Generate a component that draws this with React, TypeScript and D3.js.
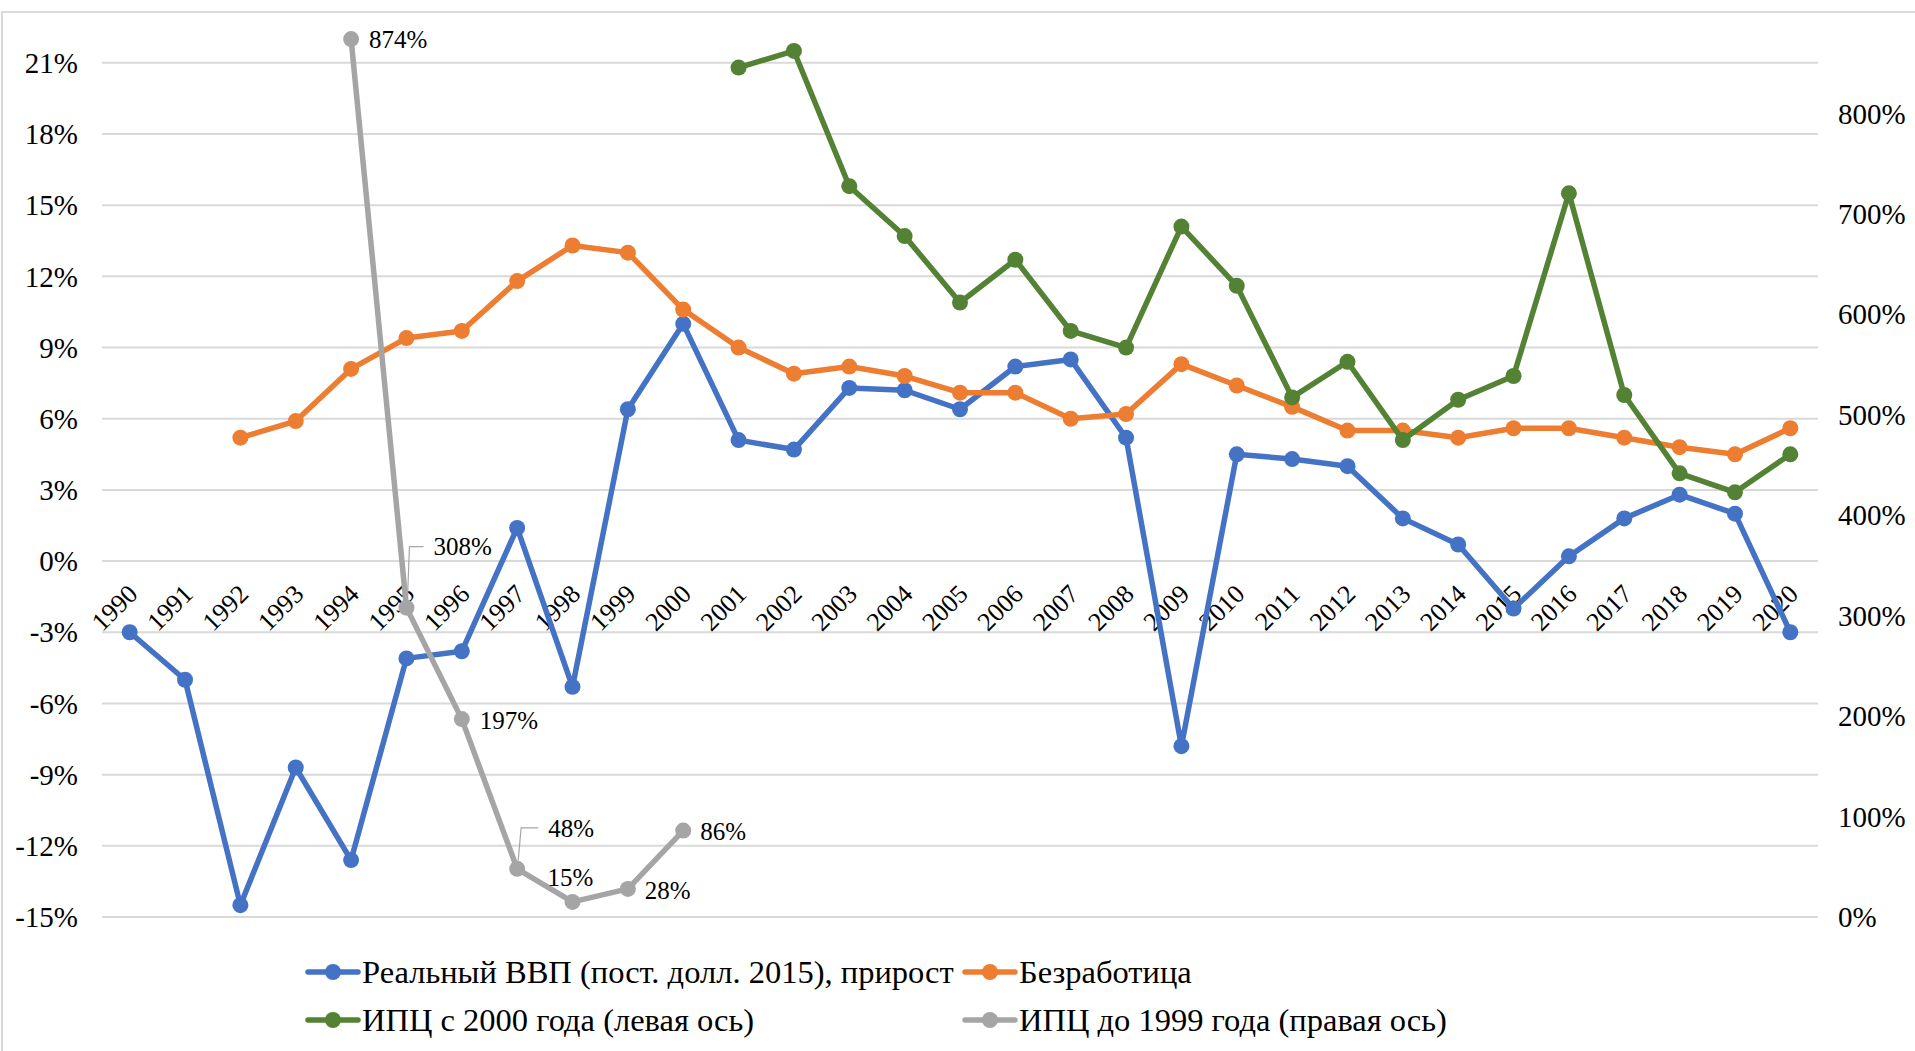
import React from 'react';
import * as d3 from 'd3';

const years = [
  '1990', '1991', '1992', '1993', '1994', '1995', '1996', '1997', '1998', '1999',
  '2000', '2001', '2002', '2003', '2004', '2005', '2006', '2007', '2008', '2009',
  '2010', '2011', '2012', '2013', '2014', '2015', '2016', '2017', '2018', '2019', '2020'
];

// real GDP growth, %
const gdpGrowth = [
  -3.0, -5.0, -14.5, -8.7, -12.6, -4.1, -3.8, 1.4, -5.3, 6.4,
  10.0, 5.1, 4.7, 7.3, 7.2, 6.4, 8.2, 8.5, 5.2, -7.8,
  4.5, 4.3, 4.0, 1.8, 0.7, -2.0, 0.2, 1.8, 2.8, 2.0, -3.0
];

// unemployment, %
const unemployment = [
  null, null, 5.2, 5.9, 8.1, 9.4, 9.7, 11.8, 13.3, 13.0,
  10.6, 9.0, 7.9, 8.2, 7.8, 7.1, 7.1, 6.0, 6.2, 8.3,
  7.4, 6.5, 5.5, 5.5, 5.2, 5.6, 5.6, 5.2, 4.8, 4.5, 5.6
];

// CPI since 2000 (left axis), %
const cpiSince2000 = [
  null, null, null, null, null, null, null, null, null, null,
  null, 20.8, 21.5, 15.8, 13.7, 10.9, 12.7, 9.7, 9.0, 14.1,
  11.6, 6.9, 8.4, 5.1, 6.8, 7.8, 15.5, 7.0, 3.7, 2.9, 4.5
];

// CPI before 1999 (right axis), %
const cpiBefore1999 = [
  null, null, null, null, 874, 308, 197, 48, 15, 28,
  86, null, null, null, null, null, null, null, null, null,
  null, null, null, null, null, null, null, null, null, null, null
];

const leftTicks = [-15, -12, -9, -6, -3, 0, 3, 6, 9, 12, 15, 18, 21];
const rightTicks = [0, 100, 200, 300, 400, 500, 600, 700, 800];

const seriesNames = [
  'Реальный ВВП (пост. долл. 2015), прирост',
  'Безработица',
  'ИПЦ с 2000 года (левая ось)',
  'ИПЦ до 1999 года (правая ось)'
];

const COLORS = ['#4472C4', '#ED7D31', '#548235', '#A5A5A5'];
const FONT = '"Liberation Serif", "Times New Roman", serif';

// label placement for the grey series (relative to the point)
const grayLabelPos: Record<string, { dx: number; dy: number; anchor?: string; leader?: boolean }> = {
  '1994': { dx: 18, dy: 0 },
  '1995': { dx: 27, dy: -61, leader: true },
  '1996': { dx: 18, dy: 1 },
  '1997': { dx: 31, dy: -41, leader: true },
  '1998': { dx: -2, dy: -25, anchor: 'middle' },
  '1999': { dx: 17, dy: 1 },
  '2000': { dx: 17, dy: 1 }
};

const W = 1915;
const H = 1051;
const plot = { left: 102, right: 1818, top: 13, bottom: 917 };

export default function App() {
  const x = d3.scaleBand<string>().domain(years).range([plot.left, plot.right]);
  const cx = (yr: string) => (x(yr) as number) + x.bandwidth() / 2;
  const yL = d3.scaleLinear().domain([-15, 23.1]).range([plot.bottom, plot.top]);
  const yR = d3.scaleLinear().domain([0, 900]).range([plot.bottom, plot.top]);

  const series = [
    { values: gdpGrowth, y: yL, color: COLORS[0] },
    { values: unemployment, y: yL, color: COLORS[1] },
    { values: cpiSince2000, y: yL, color: COLORS[2] },
    { values: cpiBefore1999, y: yR, color: COLORS[3] }
  ];

  const zeroY = yL(0);

  return (
    <svg
      width={W}
      height={H}
      style={{ position: 'absolute', left: 0, top: 0, background: '#fff' }}
      fontFamily={FONT}
    >
      <rect x={0} y={0} width={W} height={H} fill="#fff" />
      {/* chart frame */}
      <rect x={2} y={12} width={W + 10} height={H + 10} fill="none" stroke="#d9d9d9" strokeWidth={2} />

      {/* gridlines */}
      {leftTicks.map(t => (
        <line key={t} x1={plot.left} x2={plot.right} y1={yL(t)} y2={yL(t)} stroke="#d9d9d9" strokeWidth={2} />
      ))}

      {/* left axis labels */}
      {leftTicks.map(t => (
        <text key={t} x={78} y={yL(t)} dy="0.35em" textAnchor="end" fontSize={29} fill="#000">
          {t}%
        </text>
      ))}

      {/* right axis labels */}
      {rightTicks.map(t => (
        <text key={t} x={1838} y={yR(t)} dy="0.35em" textAnchor="start" fontSize={29} fill="#000">
          {t}%
        </text>
      ))}

      {/* category labels next to the zero line */}
      {years.map(yr => (
        <text
          key={yr}
          transform={`translate(${cx(yr) + 3}, ${zeroY + 28}) rotate(-45)`}
          dy="0.35em"
          textAnchor="end"
          fontSize={26}
          fill="#000"
        >
          {yr}
        </text>
      ))}

      {/* series */}
      {series.map((s, i) => {
        const pts = years.map((yr, k) => ({ yr, v: s.values[k] }));
        const line = d3.line<{ yr: string; v: number | null }>()
          .defined(d => d.v !== null)
          .x(d => cx(d.yr))
          .y(d => s.y(d.v as number));
        return (
          <g key={i}>
            <path d={line(pts) || ''} fill="none" stroke={s.color} strokeWidth={5.5} strokeLinejoin="round" strokeLinecap="round" />
            {pts.filter(d => d.v !== null).map(d => (
              <circle key={d.yr} cx={cx(d.yr)} cy={s.y(d.v as number)} r={8} fill={s.color} />
            ))}
          </g>
        );
      })}

      {/* grey series data labels */}
      {years.map((yr, k) => {
        const v = cpiBefore1999[k];
        if (v === null) return null;
        const pos = grayLabelPos[yr];
        const px = cx(yr);
        const py = yR(v);
        const lx = px + pos.dx;
        const ly = py + pos.dy;
        return (
          <g key={yr}>
            {pos.leader && (
              <polyline
                points={`${px + 1},${py - 8} ${px + 3 + (pos.dx - 27) * 0.25},${ly} ${lx - 10},${ly}`}
                fill="none"
                stroke="#a6a6a6"
                strokeWidth={1.2}
              />
            )}
            <text x={lx} y={ly} dy="0.35em" textAnchor={pos.anchor || 'start'} fontSize={25} fill="#000">
              {v}%
            </text>
          </g>
        );
      })}

      {/* legend */}
      {seriesNames.map((name, i) => {
        const col = i % 2;
        const row = Math.floor(i / 2);
        const mx = col === 0 ? 308 : 965;
        const my = row === 0 ? 972 : 1020;
        return (
          <g key={name}>
            <line x1={mx} x2={mx + 50} y1={my} y2={my} stroke={COLORS[i]} strokeWidth={5.5} strokeLinecap="round" />
            <circle cx={mx + 25} cy={my} r={8} fill={COLORS[i]} />
            <text x={mx + 54} y={my} dy="0.35em" fontSize={32.5} fill="#000">
              {name}
            </text>
          </g>
        );
      })}
    </svg>
  );
}
